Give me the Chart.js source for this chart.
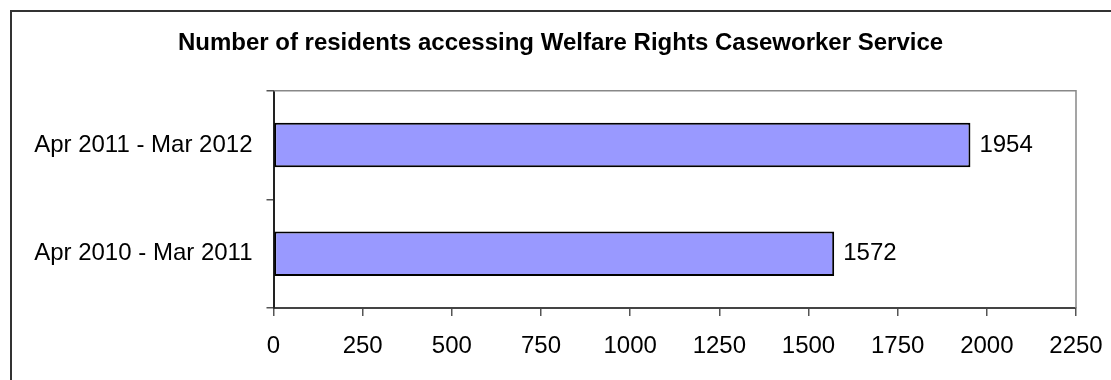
<!DOCTYPE html>
<html>
<head>
<meta charset="utf-8">
<script src="https://cdn.jsdelivr.net/npm/chart.js@4.4.1/dist/chart.umd.min.js"></script>
<style>
  html, body { margin: 0; padding: 0; background: #fff; }
  #wrap { position: relative; width: 1111px; height: 380px; }
</style>
</head>
<body>
<div id="wrap"><canvas id="c" width="1111" height="380"></canvas></div>
<script>
  // Periods, top bar first (as Excel draws them).
  const PERIODS = ['Apr 2011 - Mar 2012', 'Apr 2010 - Mar 2011'];
  const RESIDENTS = [1954, 1572];
  const X_MIN = 0;
  const X_MAX = 2250;
  const X_STEP = 250;

  const FONT = 'Arial, "Liberation Sans", sans-serif';

  // Old-Excel frame: outer chart border (left/top only in the crop) and plot area top/right edges.
  const framePlugin = {
    id: 'frame',
    beforeDraw(chart) {
      const ctx = chart.ctx;
      ctx.save();
      ctx.strokeStyle = '#333';
      ctx.lineWidth = 2;
      ctx.beginPath();
      ctx.moveTo(11, 380);
      ctx.lineTo(11, 11);
      ctx.lineTo(1111, 11);
      ctx.stroke();
      ctx.restore();
    },
    afterDraw(chart) {
      const a = chart.chartArea;
      const ctx = chart.ctx;
      ctx.save();
      ctx.strokeStyle = '#888';
      ctx.lineWidth = 1.5;
      ctx.beginPath();
      ctx.moveTo(a.left, a.top);
      ctx.lineTo(a.right, a.top);
      ctx.lineTo(a.right, a.bottom);
      ctx.stroke();
      ctx.restore();
    },
  };

  // Value labels just past the bar ends.
  const valueLabels = {
    id: 'valueLabels',
    afterDatasetsDraw(chart) {
      const ctx = chart.ctx;
      const meta = chart.getDatasetMeta(0);
      ctx.save();
      ctx.font = '24px ' + FONT;
      ctx.fillStyle = '#000';
      ctx.textAlign = 'left';
      ctx.textBaseline = 'middle';
      meta.data.forEach((bar, i) => {
        ctx.fillText(String(RESIDENTS[i]), bar.x + 9, bar.y);
      });
      ctx.restore();
    },
  };

  new Chart(document.getElementById('c'), {
    type: 'bar',
    data: {
      labels: PERIODS,
      datasets: [{
        data: RESIDENTS,
        backgroundColor: '#9999FF',
        borderColor: '#000',
        borderWidth: 2,
        borderSkipped: false,
        barPercentage: 0.41,
        categoryPercentage: 1,
      }],
    },
    options: {
      indexAxis: 'y',
      responsive: false,
      animation: false,
      layout: { padding: { left: 10, right: 0, top: 0, bottom: 0 } },
      plugins: {
        legend: { display: false },
        tooltip: { enabled: false },
        title: {
          display: true,
          text: 'Number of residents accessing Welfare Rights Caseworker Service',
          color: '#000',
          font: { family: FONT, size: 24, weight: 'bold' },
          padding: { top: 29, bottom: 33 },
        },
      },
      scales: {
        x: {
          min: X_MIN,
          max: X_MAX,
          afterFit(s) { s.height = 72; s.paddingRight = 35; s.paddingLeft = 0; },
          ticks: {
            stepSize: X_STEP,
            color: '#000',
            font: { family: FONT, size: 24 },
            padding: 16,
            maxRotation: 0,
            callback: (v) => String(v),
          },
          grid: { drawOnChartArea: false, drawTicks: true, tickLength: 8, color: '#555', lineWidth: 1.5 },
          border: { display: true, color: '#444', width: 2 },
        },
        y: {
          afterFit(s) { s.width = 263.5; },
          ticks: {
            color: '#000',
            font: { family: FONT, size: 24 },
            padding: 14,
          },
          grid: { offset: true, drawOnChartArea: false, drawTicks: true, tickLength: 7, color: '#555', lineWidth: 1.5 },
          border: { display: true, color: '#222', width: 2 },
        },
      },
    },
    plugins: [framePlugin, valueLabels],
  });
</script>
</body>
</html>
